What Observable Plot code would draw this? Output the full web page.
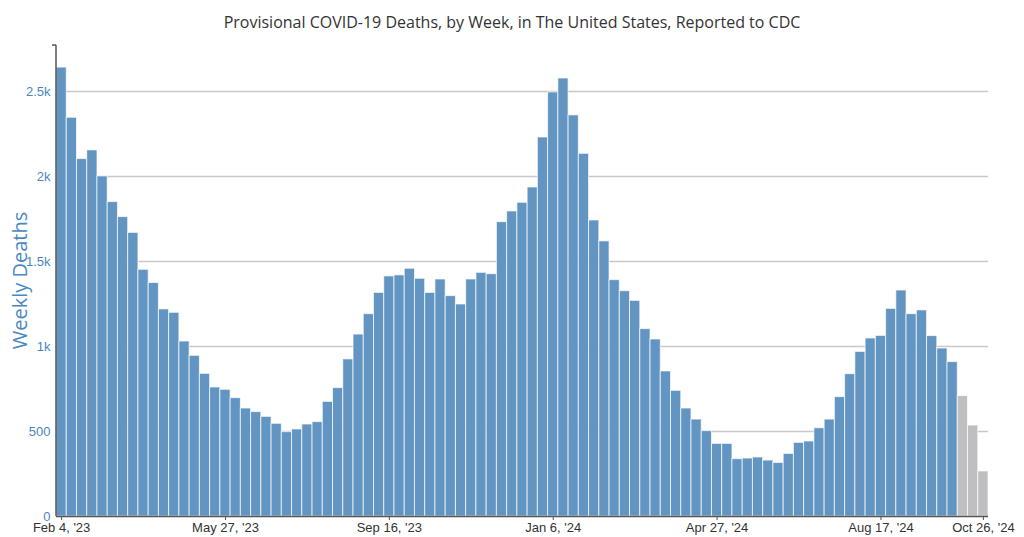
<!DOCTYPE html>
<html>
<head>
<meta charset="utf-8">
<script src="https://cdn.jsdelivr.net/npm/d3@7"></script>
<script src="https://cdn.jsdelivr.net/npm/@observablehq/plot@0.6"></script>
<style>
  html, body { margin: 0; padding: 0; background: #fff; }
  #title { height: 40px; line-height: 44px; text-align: center; font-family: "Open Sans", sans-serif; font-size: 16px; color: #333; }
  #chart svg { display: block; }
</style>
</head>
<body>
<div id="title">Provisional COVID-19 Deaths, by Week, in The United States, Reported to CDC</div>
<div id="chart"></div>
<script>
const startWeek = "2023-02-04";
const deaths = [
  2640, 2345, 2102, 2153, 2000, 1849, 1761, 1668, 1451, 1373,
  1218, 1198, 1029, 945, 839, 759, 745, 696, 635, 614,
  586, 545, 496, 512, 541, 555, 674, 755, 924, 1070,
  1190, 1315, 1412, 1418, 1457, 1398, 1315, 1394, 1296, 1247,
  1394, 1433, 1425, 1731, 1794, 1845, 1935, 2229, 2494, 2576,
  2359, 2133, 1741, 1618, 1390, 1325, 1268, 1102, 1041, 853,
  739, 635, 570, 502, 427, 427, 337, 341, 347, 329,
  315, 368, 433, 441, 519, 570, 702, 837, 968, 1047,
  1062, 1221, 1329, 1190, 1212, 1061, 988, 908, 708, 535,
  265
];
const incompleteWeeks = 3;
const xTickLabels = ["Feb 4, '23", "May 27, '23", "Sep 16, '23", "Jan 6, '24", "Apr 27, '24", "Aug 17, '24", "Oct 26, '24"];
const yTicks = [0, 500, 1000, 1500, 2000, 2500];
const yTickLabels = ["0", "500", "1k", "1.5k", "2k", "2.5k"];

const start = new Date(startWeek + "T00:00:00Z");
const fmt = d => {
  const m = d3.utcFormat("%b %-d")(d);
  return m + ", '" + d3.utcFormat("%y")(d);
};
const data = deaths.map((v, i) => {
  const d = d3.utcWeek.offset(start, i);
  return { week: fmt(d), deaths: v, incomplete: i >= deaths.length - incompleteWeeks };
});

const W = 1024, H = 497;
const mL = 56, mR = 36, mT = 5, mB = 21;

const plot = Plot.plot({
  width: W, height: H,
  marginLeft: mL, marginRight: mR, marginTop: mT, marginBottom: mB,
  style: { fontFamily: "'Liberation Sans', Arial, sans-serif", fontSize: "13px", background: "#fff" },
  x: { type: "band", domain: data.map(d => d.week), padding: 0, round: false, label: null },
  y: { domain: [0, 2770], label: null },
  marks: [
    Plot.ruleY(yTicks.filter(t => t > 0), { stroke: "#c8c8c8", strokeWidth: 1.5 }),
    Plot.barY(data, {
      x: "week", y: "deaths",
      fill: d => d.incomplete ? "#bfbfc2" : "#6395c2",
      stroke: "#ffffff", strokeWidth: 1, strokeOpacity: 0.7, inset: 0
    }),
    Plot.ruleY([0], { stroke: "#555", strokeWidth: 1.5 }),
    Plot.axisX({ ticks: xTickLabels, tickSize: 4, tickPadding: 2, fill: "#333", stroke: "#555", label: null }),
    Plot.axisY({ ticks: yTicks, tickFormat: (d) => yTickLabels[yTicks.indexOf(d)], tickSize: 0, tickPadding: 6, fill: "#4a86c0", label: null })
  ]
});

document.getElementById("chart").appendChild(plot);

const svg = d3.select(plot);
// left axis line
svg.append("line")
  .attr("x1", mL).attr("x2", mL).attr("y1", mT).attr("y2", H - mB)
  .attr("stroke", "#555").attr("stroke-width", 1.5);
svg.append("line")
  .attr("x1", mL - 4).attr("x2", mL).attr("y1", mT).attr("y2", mT)
  .attr("stroke", "#555").attr("stroke-width", 1.5);
// y axis title
svg.append("text")
  .attr("transform", `translate(22,${(mT + H - mB) / 2}) rotate(-90)`)
  .attr("text-anchor", "middle")
  .attr("dominant-baseline", "middle")
  .attr("font-family", "'Open Sans', sans-serif")
  .attr("font-size", 20)
  .attr("fill", "#4a88c4")
  .text("Weekly Deaths");
</script>
</body>
</html>
